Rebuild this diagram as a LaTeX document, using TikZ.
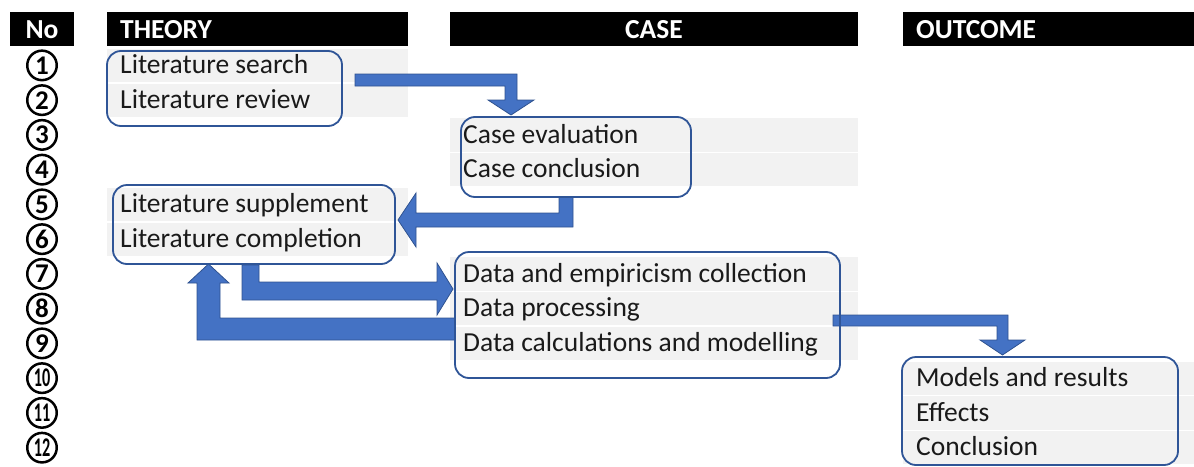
\documentclass[tikz,border=0pt]{standalone}
\usepackage{fontspec}
\usepackage{graphicx}
\setmainfont{Carlito}
\definecolor{cellgray}{HTML}{F2F2F2}
\definecolor{boxline}{HTML}{2F5597}
\definecolor{arrowfill}{HTML}{4472C4}
\definecolor{arrowline}{HTML}{2F528F}
\definecolor{textcol}{HTML}{1A1A1A}
\begin{document}
\begin{tikzpicture}[x=1pt,y=-1pt,
  cell/.style={fill=cellgray},
  headbar/.style={fill=black},
  headtext/.style={text=white,inner sep=0,font=\fontsize{27.5}{30}\selectfont\bfseries},
  item/.style={anchor=base west,inner sep=0,text=textcol,font=\fontsize{27.5}{30}\selectfont},
  num/.style={circle,draw=black,line width=2.5pt,minimum size=29.5pt,inner sep=0,
    font=\fontsize{27}{27}\selectfont\bfseries},
  stagebox/.style={draw=boxline,line width=1.8pt,rounded corners=14pt,inner sep=0},
  blockarrow/.style={fill=arrowfill,draw=arrowline,line width=0.8pt,line join=miter}
]
\useasboundingbox (0,0) rectangle (1194,466);

% header bars
\fill[headbar] (10,12) rectangle (74,46);
\fill[headbar] (107,12) rectangle (408,46);
\fill[headbar] (450,12) rectangle (858,46);
\fill[headbar] (903,12) rectangle (1194,46);
\node[headtext,anchor=base] (hno) at (42,38) {No};
\node[headtext,anchor=base west] (hth) at (120,38) {THEORY};
\node[headtext,anchor=base] (hca) at (654,38) {CASE};
\node[headtext,anchor=base west] (hou) at (916,38) {OUTCOME};

% grey table cells, one per row
\foreach \k in {1,2,5,6} {
  \pgfmathsetmacro\t{48+34.75*(\k-1)}
  \fill[cell] (107,\t+0.8) rectangle (408,\t+34);
}
\foreach \k in {3,4,7,8,9} {
  \pgfmathsetmacro\t{48+34.75*(\k-1)}
  \fill[cell] (450,\t+0.8) rectangle (858,\t+34);
}
\foreach \k in {10,11,12} {
  \pgfmathsetmacro\t{48+34.75*(\k-1)}
  \fill[cell] (903,\t+0.8) rectangle (1194,\t+34);
}

% circled step numbers
\foreach \k in {1,...,12} {
  \pgfmathsetmacro\c{65.4+34.75*(\k-1)}
  \node[num] (n\k) at (42,\c) {\ifnum\k<10 \k\else\scalebox{0.6}[1]{\k}\fi};
}

% block arrows between the stages
\draw[blockarrow] (355,74) -- (517,74) -- (517,100) -- (534,100) -- (511,115)
  -- (488,100) -- (505,100) -- (505,86) -- (355,86) -- cycle;
\draw[blockarrow] (559,197) -- (573,197) -- (573,227) -- (416,227) -- (416,247)
  -- (398,220) -- (416,193) -- (416,213) -- (559,213) -- cycle;
\draw[blockarrow] (242,265) -- (259,265) -- (259,282) -- (437,282) -- (437,263)
  -- (453,289) -- (437,315) -- (437,300) -- (242,300) -- cycle;
\draw[blockarrow] (455,318) -- (455,340) -- (197,340) -- (197,283) -- (188,283)
  -- (208.5,264) -- (229,283) -- (220,283) -- (220,318) -- cycle;
\draw[blockarrow] (833,315) -- (1008,315) -- (1008,340) -- (1025,340) -- (1002.5,355)
  -- (980,340) -- (997,340) -- (997,326) -- (833,326) -- cycle;

% stage frames
\node[stagebox,minimum width=235pt,minimum height=75pt] (litA) at (224.5,88.5) {};
\node[stagebox,minimum width=230pt,minimum height=80pt] (caseA) at (576,157) {};
\node[stagebox,minimum width=282pt,minimum height=79pt] (litB) at (254,224.5) {};
\node[stagebox,minimum width=385pt,minimum height=126pt] (data) at (647.5,315) {};
\node[stagebox,minimum width=276pt,minimum height=108pt] (out) at (1040,411) {};

% items
\node[item] (t1) at (120,73.6) {Literature search};
\node[item] (t2) at (120,108.3) {Literature review};
\node[item] (t3) at (463,143.1) {Case evaluation};
\node[item] (t4) at (463,177.8) {Case conclusion};
\node[item] (t5) at (120,212.6) {Literature supplement};
\node[item] (t6) at (120,247.3) {Literature completion};
\node[item] (t7) at (463,282.1) {Data and empiricism collection};
\node[item] (t8) at (463,316.8) {Data processing};
\node[item] (t9) at (463,351.6) {Data calculations and modelling};
\node[item] (t10) at (916,386.3) {Models and results};
\node[item] (t11) at (916,421.1) {Effects};
\node[item] (t12) at (916,455.8) {Conclusion};
\end{tikzpicture}
\end{document}
